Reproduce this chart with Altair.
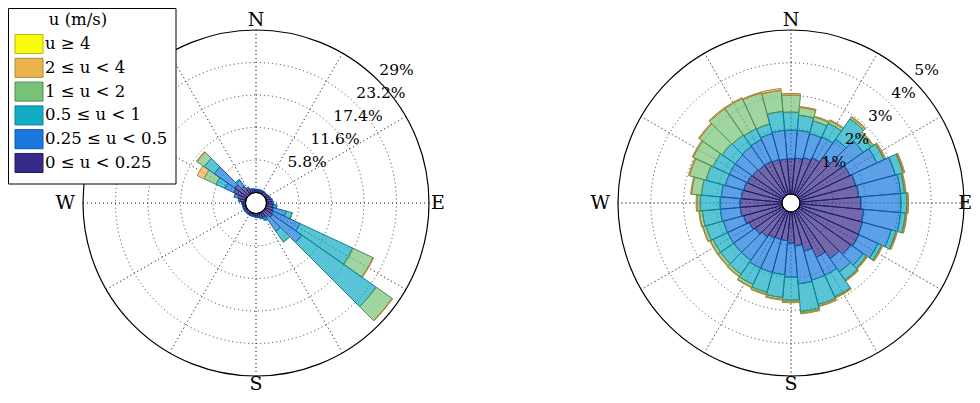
import altair as alt
import pandas as pd

# ---------------- data ----------------
CLASSES = ["0 ≤ u < 0.25", "0.25 ≤ u < 0.5", "0.5 ≤ u < 1", "1 ≤ u < 2", "2 ≤ u < 4", "u ≥ 4"]
LEGEND_ORDER = ["u ≥ 4", "2 ≤ u < 4", "1 ≤ u < 2", "0.5 ≤ u < 1", "0.25 ≤ u < 0.5", "0 ≤ u < 0.25"]
FILL = ["#352a87", "#1a78dc", "#12abc4", "#78c278", "#e9b44c", "#f9fb0e"]
EDGE = ["#221a62", "#0e56a8", "#0a8193", "#4d8f4d", "#b0853a", "#b8b90a"]
LEGEND_TITLE = "u (m/s)"

DIRS = [0, 10, 20, 30, 40, 50, 60, 70, 80, 90, 100, 110, 120, 130, 140, 150, 160, 170,
        180, 190, 200, 210, 220, 230, 240, 250, 260, 270, 280, 290, 300, 310, 320, 330, 340, 350]

# left rose: frequency (%) per direction for each speed class
L_C1 = [0.5, 0.5, 0.5, 0.5, 0.5, 0.5, 0.6, 0.7, 0.9, 1.0, 1.2, 1.3, 1.5, 1.7, 1.3, 1.0, 0.9, 0.7,
        0.6, 0.5, 0.5, 0.5, 0.5, 0.5, 0.5, 0.5, 0.5, 0.6, 1.0, 1.5, 2.5, 2.8, 1.8, 1.0, 0.7, 0.6]
L_C2 = [0.1, 0.1, 0.1, 0.1, 0.1, 0.1, 0.1, 0.2, 0.2, 0.3, 0.6, 2.4, 5.3, 6.4, 3.0, 0.5, 0.2, 0.1,
        0.1, 0.1, 0.1, 0.1, 0.1, 0.1, 0.1, 0.1, 0.1, 0.1, 0.3, 0.6, 1.8, 4.4, 1.3, 0.3, 0.1, 0.1]
L_C3 = [0, 0, 0, 0, 0, 0, 0, 0, 0, 0, 0.1, 1.1, 10.4, 16.2, 2.3, 0.1, 0, 0,
        0, 0, 0, 0, 0, 0, 0, 0, 0, 0, 0, 0.1, 1.7, 2.2, 0.2, 0, 0, 0]
L_C4 = [0, 0, 0, 0, 0, 0, 0, 0, 0, 0, 0, 0.05, 4.0, 3.5, 0.05, 0, 0, 0,
        0, 0, 0, 0, 0, 0, 0, 0, 0, 0, 0, 0, 2.4, 1.6, 0, 0, 0, 0]
L_C5 = [0, 0, 0, 0, 0, 0, 0, 0, 0, 0, 0, 0, 0.1, 0.1, 0, 0, 0, 0,
        0, 0, 0, 0, 0, 0, 0, 0, 0, 0, 0, 0, 1.3, 0.1, 0, 0, 0, 0]
L_C6 = [0] * 36

# right rose
R_C1 = [1.07, 1.10, 1.16, 1.25, 1.43, 1.59, 1.71, 1.77, 1.80, 1.86, 1.95, 1.98, 2.01, 1.95, 1.80, 1.55, 1.25, 1.04,
        0.95, 0.88, 0.88, 0.91, 0.98, 1.07, 1.13, 1.22, 1.28, 1.28, 1.25, 1.22, 1.19, 1.16, 1.13, 1.13, 1.10, 1.07]
R_C2 = [0.88, 0.85, 0.76, 0.70, 0.67, 0.82, 0.91, 1.25, 1.28, 1.22, 1.13, 0.91, 0.64, 0.46, 0.49, 0.61, 0.91, 1.16,
        1.04, 1.04, 1.04, 1.01, 0.88, 0.79, 0.73, 0.64, 0.61, 0.61, 0.61, 0.58, 0.61, 0.64, 0.70, 0.73, 0.82, 0.88]
R_C3 = [0.55, 0.46, 0.40, 0.46, 0.76, 0.30, 0.24, 0.24, 0.12, 0.18, 0.15, 0.15, 0.12, 0.12, 0.30, 0.72, 0.77, 0.85,
        0.70, 0.70, 0.63, 0.55, 0.52, 0.49, 0.49, 0.55, 0.55, 0.61, 0.61, 0.61, 0.55, 0.49, 0.43, 0.37, 0.30, 0.58]
R_C4 = [0.52, 0.24, 0.12, 0.09, 0.06, 0.06, 0.03, 0.03, 0.03, 0.03, 0.03, 0.03, 0.03, 0.03, 0.03, 0.03, 0.05, 0.05,
        0.06, 0.06, 0.06, 0.09, 0.08, 0.09, 0.09, 0.09, 0.09, 0.09, 0.30, 0.52, 0.67, 0.85, 0.98, 1.01, 0.98, 0.64]
R_C5 = [0.05, 0.03, 0.03, 0.03, 0.03, 0.03, 0.03, 0.03, 0.02, 0.02, 0.02, 0.02, 0.02, 0.02, 0.02, 0.02, 0.02, 0.02,
        0.02, 0.02, 0.02, 0.02, 0.02, 0.02, 0.02, 0.02, 0.02, 0.03, 0.03, 0.03, 0.03, 0.03, 0.03, 0.03, 0.03, 0.06]
R_C6 = [0] * 36

L_RINGS = [5.8, 11.6, 17.4, 23.2, 29]
L_RING_LABELS = ["5.8%", "11.6%", "17.4%", "23.2%", "29%"]
R_RINGS = [1, 2, 3, 4, 5]
R_RING_LABELS = ["1%", "2%", "3%", "4%", "5%"]
SPOKES = [0, 30, 60, 90, 120, 150, 180, 210, 240, 270, 300, 330]
COMPASS = ["N", "E", "S", "W"]
COMPASS_ANGLES = [0, 90, 180, 270]

# ---------------- layout ----------------
W, H = 964, 387
CY = 195
R_OUT = 173
FONT = "DejaVu Serif"
THETA = alt.Scale(domain=[0, 360], range=[0, 6.283185307179586])
COLOR = alt.Scale(domain=CLASSES, range=FILL)
STROKE = alt.Scale(domain=CLASSES, range=EDGE)


def stacked(series):
    rows = []
    for i, d in enumerate(DIRS):
        acc = 0.0
        for k, cls in enumerate(CLASSES):
            v = series[k][i]
            if v > 0:
                rows.append(dict(dir=d, t1=d - 5, t2=d + 5, r1=acc, r2=acc + v, cls=cls))
                acc += v
    return pd.DataFrame(rows)


def rose(cx, series, rings, ring_labels, r_in, east_spec):
    vmax = rings[-1]
    rs = alt.Scale(type="linear", domain=[0, vmax], range=[r_in, R_OUT])
    pos = dict(x=alt.value(cx), y=alt.value(CY))
    layers = []

    ring_df = pd.DataFrame({"r": rings[:-1], "t1": 0, "t2": 360})
    layers.append(alt.Chart(ring_df).mark_arc(fillOpacity=0, stroke="#222", strokeWidth=0.9,
                                                strokeDash=[1, 3]).encode(
        theta=alt.Theta("t1:Q", scale=THETA, stack=None), theta2="t2:Q",
        radius=alt.Radius("r:Q", scale=rs, stack=None), **pos))

    spoke_df = pd.DataFrame({"a": SPOKES, "r": vmax, "r0": 0})
    layers.append(alt.Chart(spoke_df).mark_arc(fillOpacity=0, stroke="#222", strokeWidth=0.7,
                                                 strokeDash=[1, 3]).encode(
        theta=alt.Theta("a:Q", scale=THETA, stack=None), theta2="a:Q",
        radius=alt.Radius("r:Q", scale=rs, stack=None), radius2="r0:Q", **pos))

    layers.append(alt.Chart(stacked(series)).mark_arc(fillOpacity=0.7, strokeWidth=1).encode(
        theta=alt.Theta("t1:Q", scale=THETA, stack=None), theta2="t2:Q",
        radius=alt.Radius("r2:Q", scale=rs, stack=None), radius2="r1:Q",
        color=alt.Color("cls:N", scale=COLOR, legend=None),
        stroke=alt.Stroke("cls:N", scale=STROKE, legend=None), **pos))

    outer_df = pd.DataFrame({"r": [vmax], "t1": [0], "t2": [360]})
    layers.append(alt.Chart(outer_df).mark_arc(fillOpacity=0, stroke="black", strokeWidth=1.2).encode(
        theta=alt.Theta("t1:Q", scale=THETA, stack=None), theta2="t2:Q",
        radius=alt.Radius("r:Q", scale=rs, stack=None), **pos))

    lab_df = pd.DataFrame({"r": rings, "lab": ring_labels, "a": 45})
    layers.append(alt.Chart(lab_df).mark_text(font=FONT, fontSize=15.5, align="left",
                                                baseline="alphabetic", dx=1, dy=-6, color="black").encode(
        theta=alt.Theta("a:Q", scale=THETA, stack=None),
        radius=alt.Radius("r:Q", scale=rs, stack=None), text="lab:N", **pos))

    comp_df = pd.DataFrame({"lab": COMPASS, "a": COMPASS_ANGLES, "r": vmax})
    specs = {"N": ("center", "alphabetic", 0, -4), "E": east_spec,
             "S": ("center", "alphabetic", 0, 14), "W": ("right", "middle", -8, 0)}
    for lab, (al, bl, dx, dy) in specs.items():
        layers.append(alt.Chart(comp_df[comp_df.lab == lab]).mark_text(
            font=FONT, fontSize=19, align=al, baseline=bl, dx=dx, dy=dy, color="black").encode(
            theta=alt.Theta("a:Q", scale=THETA, stack=None),
            radius=alt.Radius("r:Q", scale=rs, stack=None), text="lab:N", **pos))
    return layers


left = rose(248, [L_C1, L_C2, L_C3, L_C4, L_C5, L_C6], L_RINGS, L_RING_LABELS, 10.5,
            ("left", "middle", 2, 0))
right = rose(783, [R_C1, R_C2, R_C3, R_C4, R_C5, R_C6], R_RINGS, R_RING_LABELS, 9,
             ("right", "middle", 8, 0))

# ---------------- legend ----------------
one = pd.DataFrame({"t": [LEGEND_TITLE]})
box = alt.Chart(one).mark_rect(fill="white", stroke="black", strokeWidth=1).encode(
    x=alt.value(0.5), x2=alt.value(168), y=alt.value(0.5), y2=alt.value(176))
title = alt.Chart(one).mark_text(font=FONT, fontSize=16.5, align="center", baseline="middle").encode(
    x=alt.value(70), y=alt.value(12), text="t:N")
leg_df = pd.DataFrame({"cls": LEGEND_ORDER})
ysc = alt.Scale(type="point", domain=LEGEND_ORDER, range=[36, 155], padding=0)
sw = alt.Chart(leg_df).mark_point(shape="M-1,-0.68H1V0.68H-1Z", size=784, filled=True,
                                  opacity=1, strokeWidth=1).encode(
    x=alt.value(21), y=alt.Y("cls:N", scale=ysc, axis=None),
    color=alt.Color("cls:N", scale=COLOR, legend=None),
    stroke=alt.Stroke("cls:N", scale=STROKE, legend=None))
lt = alt.Chart(leg_df).mark_text(font=FONT, fontSize=16.5, align="left", baseline="middle").encode(
    x=alt.value(37), y=alt.Y("cls:N", scale=ysc, axis=None), text="cls:N")

chart = alt.layer(*left, *right, box, title, sw, lt).resolve_scale(
    radius="independent"
).properties(
    width=W, height=H, autosize=alt.AutoSizeParams(type="none"), padding=0
).configure_view(strokeWidth=0)

chart.save("out.html", embed_options={"renderer": "svg", "actions": False})
